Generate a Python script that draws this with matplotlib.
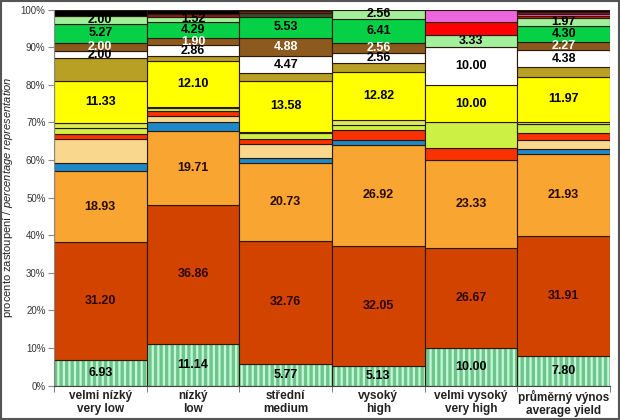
import numpy as np
import matplotlib
matplotlib.use("Agg")
import matplotlib.pyplot as plt
from matplotlib.patches import Rectangle

plt.rcParams['font.family'] = ['Liberation Sans', 'DejaVu Sans']
plt.rcParams['mathtext.fontset'] = 'custom'
plt.rcParams['mathtext.rm'] = 'Liberation Sans'
plt.rcParams['mathtext.it'] = 'Liberation Sans:italic'
plt.rcParams['hatch.linewidth'] = 1.6

# kategorie vynosu
categories = ['velmi nízký\nvery low', 'nízký\nlow', 'střední\nmedium',
              'vysoký\nhigh', 'velmi vysoký\nvery high', 'průměrný výnos\naverage yield']

# podily jednotlivych skupin (odspodu nahoru)
stripe   = [6.93, 11.14, 5.77, 5.13, 10.00, 7.80]
dk_orange = [31.20, 36.86, 32.76, 32.05, 26.67, 31.91]
orange   = [18.93, 19.71, 20.73, 26.92, 23.33, 21.93]
blue     = [2.2, 2.5, 1.3, 1.3, 0, 1.4]
peach    = [6.2, 1.5, 3.6, 0, 0, 2.2]
red      = [1.35, 1.4, 1.3, 2.5, 3.33, 2.0]
ygreen   = [1.6, 0.6, 1.8, 1.4, 6.67, 2.4]
ygreen2  = [1.4, 0.5, 0.3, 1.3, 0, 0.6]
yellow   = [11.33, 12.10, 13.58, 12.82, 10.00, 11.97]
olive    = [5.9, 1.3, 2.0, 2.49, 0, 2.6]
white    = [2.00, 2.86, 4.47, 2.56, 10.00, 4.38]
brown    = [2.00, 1.90, 4.88, 2.56, 0, 2.27]
green    = [5.27, 4.29, 5.53, 6.41, 0, 4.30]
lgreen   = [2.00, 1.52, 0, 2.56, 3.33, 1.97]
red2     = [0, 0, 0, 0, 3.33, 0.7]
pink     = [0, 0, 0, 0, 3.34, 0.5]
dk_green = [0, 0, 1.2, 0, 0, 0]
dk_red   = [0, 0.6, 0.4, 0, 0, 0.5]
black    = [1.69, 1.22, 0.38, 0, 0, 0.57]

# (hodnoty, barva, popisek?, barva popisku)
series = [
    (stripe, '#6cc68c', True, 'black'),
    (dk_orange, '#d24300', True, '#2a0a00'),
    (orange, '#f8a532', True, '#2a0a00'),
    (blue, '#1f88c8', False, None),
    (peach, '#f9d88e', False, None),
    (red, '#f83200', False, None),
    (ygreen, '#ccf043', False, None),
    (ygreen2, '#dcec55', False, None),
    (yellow, '#ffff00', True, 'black'),
    (olive, '#b8a024', False, None),
    (white, '#ffffff', True, 'black'),
    (brown, '#8b5a1c', True, 'white'),
    (green, '#06d146', True, 'black'),
    (lgreen, '#a2f09c', True, 'black'),
    (red2, '#ff0000', False, None),
    (pink, '#ee66dd', False, None),
    (dk_green, '#2f4f35', False, None),
    (dk_red, '#8b1a1a', False, None),
    (black, '#000000', False, None),
]

fig = plt.figure(figsize=(6.2, 4.2), dpi=100)
ax = fig.add_axes([0.087, 0.082, 0.897, 0.895])

x = np.arange(len(categories))
bottom = np.zeros(len(categories))
edge = '#2b1a0a'

for vals, col, lab, tcol in series:
    v = np.array(vals, dtype=float)
    m = v > 0
    if col == '#6cc68c':
        # pruhovany segment
        ax.bar(x[m], v[m], bottom=bottom[m], width=1.0, color=col,
               hatch='|||', edgecolor='#c6f6d6', linewidth=0)
        ax.bar(x[m], v[m], bottom=bottom[m], width=1.0, fill=False,
               edgecolor=edge, linewidth=0.8)
    else:
        ax.bar(x[m], v[m], bottom=bottom[m], width=1.0, color=col,
               edgecolor=edge, linewidth=0.8)
    if lab:
        for i in x[m]:
            ax.text(i, bottom[i] + v[i] / 2, f'{v[i]:.2f}', ha='center',
                    va='center', fontsize=9, fontweight='bold', color=tcol)
    bottom += v

ax.set_xlim(-0.5, len(categories) - 0.5)
ax.set_ylim(0, 100)
ax.set_yticks(np.arange(0, 101, 10))
ax.set_yticklabels([f'{t}%' for t in range(0, 101, 10)], fontsize=7, color='#333333')
ax.set_xticks(x)
ax.set_xticklabels(categories, fontsize=8.5, fontweight='bold', color='#222222',
                   linespacing=1.1)
ax.set_xticks(np.arange(-0.5, len(categories)), minor=True)
ax.tick_params(axis='x', which='major', length=0, pad=3)
ax.tick_params(axis='x', which='minor', length=4, color='#666666')
ax.tick_params(axis='y', length=4, color='#888888', pad=2)

for s in ['top', 'right']:
    ax.spines[s].set_visible(False)
ax.spines['left'].set_color('#888888')
ax.spines['bottom'].set_color('#444444')

ax.set_ylabel(r'procento zastoupení / $\it{percentage\ representation}$',
              fontsize=8, color='#222222', labelpad=4)

fig.patches.append(Rectangle((0.002, 0.003), 0.996, 0.994, transform=fig.transFigure,
                             fill=False, edgecolor='#555555', linewidth=1.5))

fig.savefig('out.png', dpi=100)
